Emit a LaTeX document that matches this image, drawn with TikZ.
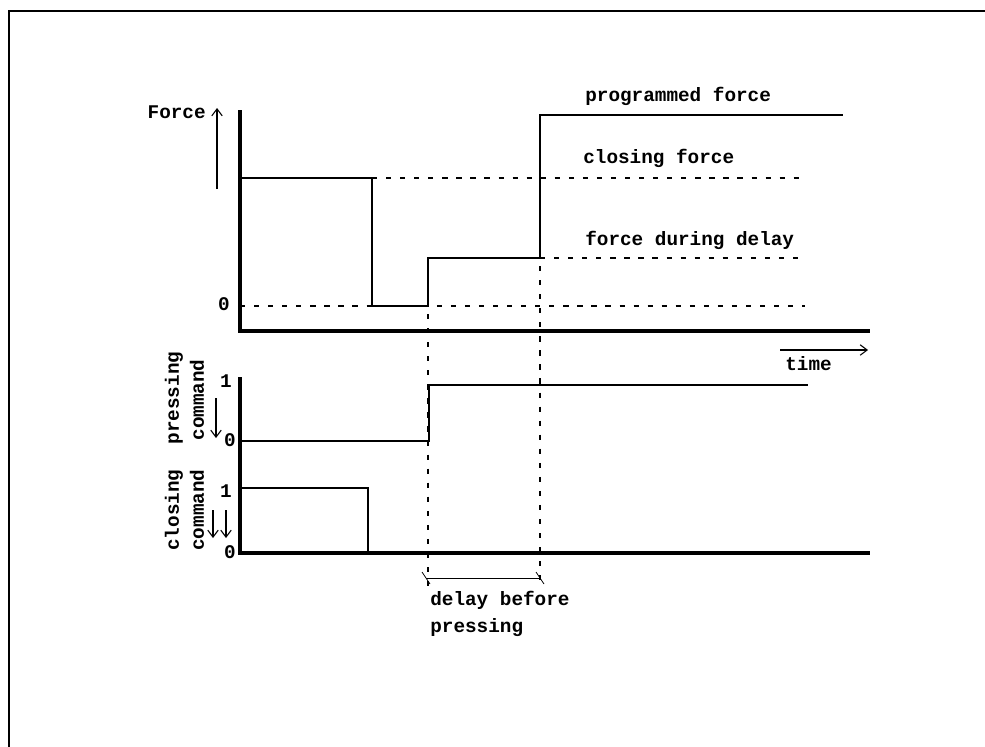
\documentclass[tikz,border=0pt]{standalone}
\usepackage{fontspec}
\setmonofont{Liberation Mono}
\usetikzlibrary{arrows.meta}
\begin{document}
\begin{tikzpicture}[x=0.02cm,y=-0.02cm,
    font=\ttfamily\bfseries\fontsize{11}{13}\selectfont,
    axis/.style={line width=2pt},
    signal/.style={line width=1pt},
    guide/.style={line width=1pt,dash pattern=on 3pt off 5pt},
    pointer/.style={line width=0.6pt,-{Straight Barb[length=4pt,width=6pt]}},
    lbl/.style={inner sep=0pt}]
                \useasboundingbox (0,0) rectangle (985,747);
                %% frame
                \draw[line width=1.7pt] (9,747) -- (9,11) -- (985,11);
                %% upper axes
                \coordinate (Ftop) at (240,110);
                \coordinate (O1) at (240,331);
                \coordinate (E1) at (870,331);
                \draw[axis] (Ftop) -- (O1) -- (E1);
                \draw[pointer] (217,189) -- (217,108);
                \node[lbl,anchor=east] (force) at (206,112) {Force};
                \node[lbl,anchor=east] (zeroF) at (230,304) {0};
                %% guides
                \draw[guide] (240,306) -- (805,306);
                \draw[guide] (372,178) -- (800,178);
                \draw[guide] (540,258) -- (800,258);
                %% force curve
                \draw[signal] (240,178) -- (372,178) -- (372,306) -- (428,306)
                    -- (428,258) -- (540,258) -- (540,115) -- (843,115);
                \node[lbl,anchor=west] (prog) at (585,96) {programmed force};
                \node[lbl,anchor=west] (close) at (583,158) {closing force};
                \node[lbl,anchor=west] (during) at (585,240) {force during delay};
                %% time
                \draw[pointer] (780,350) -- (868,350);
                \node[lbl,anchor=west] (time) at (785,364) {time};
                %% lower axes
                \coordinate (Ptop) at (240,377);
                \coordinate (O2) at (240,553);
                \coordinate (E2) at (870,553);
                \draw[axis] (Ptop) -- (O2) -- (E2);
                %% pressing command
                \draw[signal] (240,441) -- (429,441) -- (429,385) -- (808,385);
                \node[lbl,anchor=east] (oneP) at (232,381) {1};
                \node[lbl,anchor=east] (zeroP) at (236,440) {0};
                \node[lbl,rotate=90] (pressA) at (174,398) {pressing};
                \node[lbl,rotate=90] (pressB) at (197,400) {command};
                \draw[pointer] (216,398) -- (216,438);
                %% closing command
                \draw[signal] (240,488) -- (368,488) -- (368,553);
                \node[lbl,anchor=east] (oneC) at (232,491) {1};
                \node[lbl,anchor=east] (zeroC) at (236,552) {0};
                \node[lbl,rotate=90] (closeA) at (174,510) {closing};
                \node[lbl,rotate=90] (closeB) at (197,510) {command};
                \draw[pointer] (213,510) -- (213,538);
                \draw[pointer] (226,510) -- (226,538);
                %% delay
                \draw[guide] (428,314) -- (428,586);
                \draw[guide] (540,266) -- (540,586);
                \coordinate (D1) at (426,578);
                \coordinate (D2) at (540,578);
                \draw[thin] (D1) -- (D2);
                \draw[thin] (D1) ++(-4,-6) -- ++(8,12);
                \draw[thin] (D2) ++(-4,-6) -- ++(8,12);
                \node[lbl,anchor=west] (delayA) at (430,600) {delay before};
                \node[lbl,anchor=west] (delayB) at (430,628) {pressing};
            \end{tikzpicture}
\end{document}
